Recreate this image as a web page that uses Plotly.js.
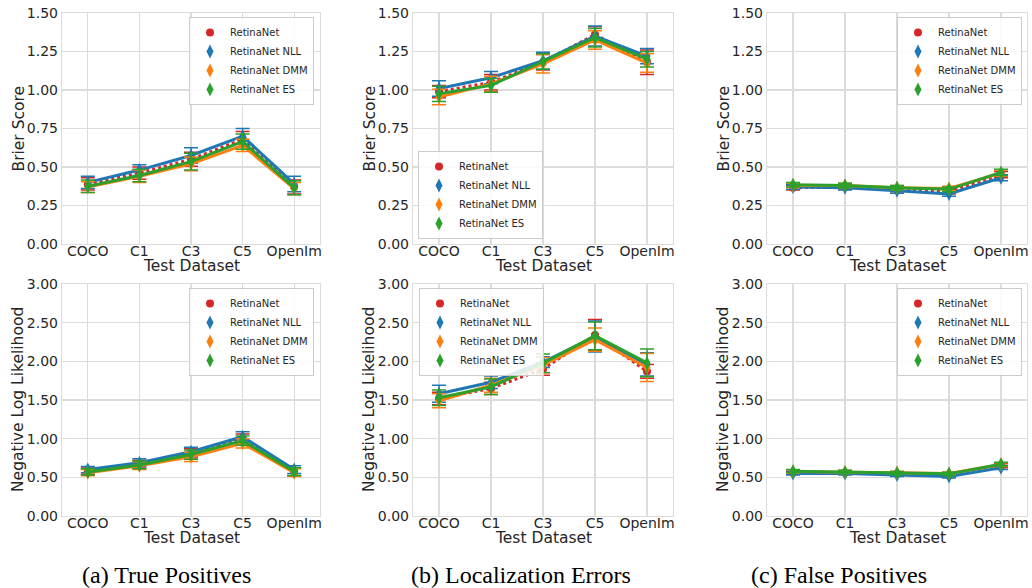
<!DOCTYPE html>
<html>
<head>
<meta charset="utf-8">
<script src="https://cdn.plot.ly/plotly-3.0.1.min.js"></script>
<style>
html,body{margin:0;padding:0;background:#fff;}
#chart{width:1032px;height:588px;}
</style>
</head>
<body>
<div id="chart"></div>
<script>
// ---- data ----
const datasets = ['COCO', 'C1', 'C3', 'C5', 'OpenIm'];
const methods = ['RetinaNet', 'RetinaNet NLL', 'RetinaNet DMM', 'RetinaNet ES'];
const captions = ['(a) True Positives', '(b) Localization Errors', '(c) False Positives'];
const yTitles = ['Brier Score', 'Negative Log Likelihood'];
const xTitle = 'Test Dataset';

// Brier score (rows: RetinaNet, NLL, DMM, ES)
const brierTP = [
  [0.39, 0.46, 0.55, 0.68, 0.37],
  [0.40, 0.48, 0.575, 0.70, 0.39],
  [0.37, 0.44, 0.52, 0.64, 0.36],
  [0.375, 0.445, 0.535, 0.665, 0.365]
];
const brierTPErr = [
  [0.04, 0.04, 0.045, 0.05, 0.045],
  [0.04, 0.035, 0.05, 0.05, 0.05],
  [0.035, 0.04, 0.045, 0.04, 0.04],
  [0.04, 0.04, 0.055, 0.05, 0.045]
];
const brierLoc = [
  [0.99, 1.05, 1.18, 1.36, 1.18],
  [1.01, 1.08, 1.19, 1.35, 1.22],
  [0.955, 1.04, 1.17, 1.325, 1.175],
  [0.975, 1.03, 1.185, 1.34, 1.20]
];
const brierLocErr = [
  [0.04, 0.05, 0.05, 0.05, 0.08],
  [0.05, 0.04, 0.055, 0.065, 0.05],
  [0.05, 0.05, 0.06, 0.06, 0.06],
  [0.05, 0.045, 0.05, 0.06, 0.05]
];
const brierFP = [
  [0.365, 0.37, 0.355, 0.34, 0.45],
  [0.37, 0.365, 0.345, 0.325, 0.43],
  [0.38, 0.38, 0.365, 0.36, 0.46],
  [0.385, 0.38, 0.365, 0.355, 0.465]
];
const brierFPErr = [
  [0.015, 0.015, 0.015, 0.015, 0.02],
  [0.015, 0.015, 0.015, 0.015, 0.02],
  [0.015, 0.015, 0.015, 0.015, 0.02],
  [0.015, 0.015, 0.015, 0.015, 0.02]
];

// Negative log likelihood
const nllTP = [
  [0.58, 0.67, 0.81, 1.00, 0.57],
  [0.60, 0.69, 0.83, 1.025, 0.60],
  [0.56, 0.65, 0.765, 0.94, 0.56],
  [0.57, 0.66, 0.795, 0.975, 0.575]
];
const nllTPErr = [
  [0.04, 0.05, 0.06, 0.06, 0.05],
  [0.04, 0.05, 0.06, 0.065, 0.05],
  [0.04, 0.05, 0.06, 0.06, 0.05],
  [0.04, 0.05, 0.06, 0.06, 0.05]
];
const nllLoc = [
  [1.52, 1.65, 1.90, 2.34, 1.87],
  [1.58, 1.73, 1.99, 2.32, 1.96],
  [1.49, 1.69, 1.95, 2.28, 1.92],
  [1.53, 1.67, 1.975, 2.33, 1.98]
];
const nllLocErr = [
  [0.08, 0.08, 0.08, 0.20, 0.09],
  [0.11, 0.08, 0.07, 0.20, 0.15],
  [0.09, 0.09, 0.10, 0.15, 0.18],
  [0.10, 0.10, 0.12, 0.18, 0.18]
];
const nllFP = [
  [0.56, 0.56, 0.545, 0.53, 0.65],
  [0.55, 0.55, 0.53, 0.51, 0.625],
  [0.575, 0.57, 0.56, 0.55, 0.665],
  [0.58, 0.57, 0.555, 0.545, 0.67]
];
const nllFPErr = [
  [0.02, 0.02, 0.02, 0.02, 0.025],
  [0.02, 0.02, 0.02, 0.02, 0.025],
  [0.02, 0.02, 0.02, 0.02, 0.025],
  [0.02, 0.02, 0.02, 0.02, 0.025]
];

// ---- styling ----
const colors = ['#d62728', '#1f77b4', '#ff7f0e', '#2ca02c'];
const symbols = ['circle', 'diamond-tall', 'diamond-tall', 'diamond-tall'];
const dashes = ['dot', 'solid', 'solid', 'solid'];
const msize = [8, 10, 10, 10];

const panels = [
  {vals: brierTP, errs: brierTPErr, row: 0, col: 0},
  {vals: brierLoc, errs: brierLocErr, row: 0, col: 1},
  {vals: brierFP, errs: brierFPErr, row: 0, col: 2},
  {vals: nllTP, errs: nllTPErr, row: 1, col: 0},
  {vals: nllLoc, errs: nllLocErr, row: 1, col: 1},
  {vals: nllFP, errs: nllFPErr, row: 1, col: 2}
];

const W = 1032, H = 588;
const colPx = [[62, 320], [413, 673], [767, 1027]];
const rowPx = [[13, 244], [284, 516]];
const yRanges = [[0, 1.5], [0, 3.0]];
const yDticks = [0.25, 0.5];

const legendPos = [
  {x: 314, y: 17, xa: 'right', ya: 'top'},
  {x: 418, y: 239, xa: 'left', ya: 'bottom'},
  {x: 1022, y: 17, xa: 'right', ya: 'top'},
  {x: 314, y: 288, xa: 'right', ya: 'top'},
  {x: 419, y: 288, xa: 'left', ya: 'top'},
  {x: 1022, y: 288, xa: 'right', ya: 'top'}
];

const gridC = '#dcdcdc';
const txtC = '#262626';
const tickFont = {family: 'DejaVu Sans, sans-serif', size: 14, color: txtC};

const traces = [];
const layout = {
  width: W, height: H,
  margin: {l: 0, r: 0, t: 0, b: 0},
  paper_bgcolor: '#fff', plot_bgcolor: '#fff',
  font: {family: 'DejaVu Sans, sans-serif', color: txtC},
  annotations: []
};

panels.forEach((p, i) => {
  const n = i + 1;
  const xa = n === 1 ? 'x' : 'x' + n;
  const ya = n === 1 ? 'y' : 'y' + n;
  const lg = n === 1 ? 'legend' : 'legend' + n;
  const cx = colPx[p.col], ry = rowPx[p.row];

  layout[n === 1 ? 'xaxis' : 'xaxis' + n] = {
    domain: [cx[0] / W, cx[1] / W],
    anchor: ya,
    type: 'category',
    range: [-0.5, 4.5],
    showgrid: true, gridcolor: gridC, gridwidth: 1.2,
    showline: true, linecolor: gridC, linewidth: 1.2, mirror: true,
    zeroline: false, ticks: '', ticklabelstandoff: -6,
    tickfont: tickFont, fixedrange: true
  };
  layout[n === 1 ? 'yaxis' : 'yaxis' + n] = {
    domain: [1 - ry[1] / H, 1 - ry[0] / H],
    anchor: xa,
    range: yRanges[p.row],
    dtick: yDticks[p.row], tick0: 0,
    tickformat: '.2f',
    showgrid: true, gridcolor: gridC, gridwidth: 1.2,
    showline: true, linecolor: gridC, linewidth: 1.2, mirror: true,
    zeroline: false, ticks: '',
    tickfont: tickFont, fixedrange: true
  };
  const lp = legendPos[i];
  layout[lg] = {
    x: lp.x / W, y: 1 - lp.y / H, xref: 'paper', yref: 'paper',
    xanchor: lp.xa, yanchor: lp.ya,
    bgcolor: 'rgba(255,255,255,0.85)', bordercolor: '#cccccc', borderwidth: 1,
    font: {family: 'DejaVu Sans, sans-serif', size: 10, color: txtC},
    tracegroupgap: 0, itemclick: false, itemdoubleclick: false
  };

  methods.forEach((m, k) => {
    traces.push({
      type: 'scatter', mode: 'lines+markers',
      x: datasets, y: p.vals[k],
      xaxis: xa, yaxis: ya,
      name: m, showlegend: false,
      line: {color: colors[k], width: 3, dash: dashes[k]},
      marker: {color: colors[k], symbol: symbols[k], size: msize[k]},
      error_y: {type: 'data', array: p.errs[k], visible: true, color: colors[k], thickness: 1.5, width: 7}
    });
  });
  methods.forEach((m, k) => {
    traces.push({
      type: 'scatter', mode: 'markers',
      x: [null], y: [null],
      xaxis: xa, yaxis: ya,
      name: m, showlegend: true, legend: lg,
      marker: {color: colors[k], symbol: symbols[k], size: msize[k]}
    });
  });

  // axis titles
  layout.annotations.push({
    text: xTitle, xref: 'paper', yref: 'paper',
    x: (cx[0] + cx[1]) / 2 / W, y: 1 - (p.row === 0 ? 266 : 538) / H,
    xanchor: 'center', yanchor: 'middle', showarrow: false,
    font: {family: 'DejaVu Sans, sans-serif', size: 15.5, color: txtC}
  });
  layout.annotations.push({
    text: yTitles[p.row], xref: 'paper', yref: 'paper',
    x: (cx[0] - 44) / W, y: 1 - (ry[0] + ry[1]) / 2 / H,
    xanchor: 'center', yanchor: 'middle', showarrow: false, textangle: -90,
    font: {family: 'DejaVu Sans, sans-serif', size: 15.5, color: txtC}
  });
});

const capX = [166, 521, 839];
captions.forEach((c, i) => {
  layout.annotations.push({
    text: c, xref: 'paper', yref: 'paper',
    x: capX[i] / W, y: 1 - 575 / H,
    xanchor: 'center', yanchor: 'middle', showarrow: false,
    font: {family: 'Liberation Serif, Times New Roman, serif', size: 24, color: '#000'}
  });
});

Plotly.newPlot('chart', traces, layout, {displayModeBar: false, staticPlot: true});
</script>
</body>
</html>
